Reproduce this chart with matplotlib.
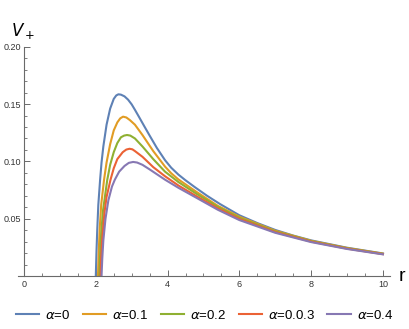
import numpy as np
import matplotlib
matplotlib.use("Agg")
import matplotlib.pyplot as plt
from matplotlib.ticker import MultipleLocator

plt.rcParams['font.family'] = ['Liberation Sans', 'DejaVu Sans']
plt.rcParams['mathtext.fontset'] = 'dejavusans'

# values
r_a0 = [2.0, 2.02, 2.04, 2.07, 2.12, 2.16, 2.21, 2.3, 2.4, 2.5, 2.57, 2.63, 2.7, 2.8, 2.9, 3.0, 3.09, 3.2, 3.35, 3.5,
        3.7, 3.93, 4.1, 4.3, 4.5, 4.76, 5.1, 5.46, 6.0, 6.5, 7.0, 7.5, 8.0, 9.0, 10.0]
v_a0 = [0.0, 0.022, 0.040, 0.062, 0.084, 0.099, 0.113, 0.132, 0.146, 0.1545, 0.1575, 0.1585, 0.1582, 0.1567, 0.1538,
        0.1497, 0.145, 0.139, 0.1307, 0.1225, 0.1118, 0.101, 0.0945, 0.0885, 0.0835, 0.0775, 0.070, 0.0628, 0.053,
        0.0462, 0.0402, 0.0353, 0.0311, 0.0247, 0.0197]

r_a1 = [2.06, 2.08, 2.11, 2.15, 2.23, 2.3, 2.4, 2.5, 2.6, 2.68, 2.76, 2.85, 2.95, 3.09, 3.3, 3.6, 3.93, 4.1, 4.3, 4.8,
        5.4, 6.0, 7.0, 8.0, 9.0, 10.0]
v_a1 = [0.0, 0.020, 0.042, 0.062, 0.084, 0.099, 0.115, 0.127, 0.134, 0.1375, 0.139, 0.1383, 0.136, 0.132, 0.123, 0.109,
        0.0954, 0.0897, 0.0843, 0.0735, 0.0612, 0.0517, 0.0395, 0.0307, 0.0244, 0.0195]

r_a2 = [2.10, 2.12, 2.15, 2.2, 2.32, 2.4, 2.5, 2.6, 2.7, 2.79, 2.87, 2.96, 3.09, 3.3, 3.6, 3.93, 4.3, 4.8, 5.4, 6.0,
        7.0, 8.0, 9.0, 10.0]
v_a2 = [0.0, 0.018, 0.037, 0.057, 0.084, 0.097, 0.108, 0.116, 0.121, 0.1225, 0.123, 0.1225, 0.120, 0.113, 0.102, 0.091,
        0.082, 0.0718, 0.0603, 0.0508, 0.0389, 0.0304, 0.0242, 0.0193]

r_a3 = [2.13, 2.15, 2.18, 2.24, 2.3, 2.41, 2.5, 2.6, 2.75, 2.85, 2.94, 3.02, 3.09, 3.3, 3.6, 3.93, 4.3, 4.8, 5.4, 6.0,
        7.0, 8.0, 9.0, 10.0]
v_a3 = [0.0, 0.016, 0.033, 0.055, 0.069, 0.084, 0.094, 0.102, 0.108, 0.1103, 0.111, 0.1105, 0.109, 0.104, 0.095, 0.087,
        0.079, 0.0697, 0.0590, 0.0498, 0.0383, 0.0300, 0.0239, 0.0191]

r_a4 = [2.16, 2.18, 2.21, 2.27, 2.35, 2.45, 2.53, 2.65, 2.8, 2.92, 3.04, 3.15, 3.3, 3.5, 3.93, 4.3, 4.8, 5.4, 6.0,
        7.0, 8.0, 9.0, 10.0]
v_a4 = [0.0, 0.015, 0.031, 0.050, 0.066, 0.078, 0.084, 0.091, 0.096, 0.0987, 0.0995, 0.099, 0.097, 0.093, 0.084,
        0.077, 0.0683, 0.0578, 0.0488, 0.0377, 0.0296, 0.0236, 0.0189]

labels = [r'$\alpha$=0', r'$\alpha$=0.1', r'$\alpha$=0.2', r'$\alpha$=0.0.3', r'$\alpha$=0.4']
colors = ['#5E81B5', '#E19C24', '#8FB032', '#EB6235', '#8778B3']
series = [(r_a0, v_a0), (r_a1, v_a1), (r_a2, v_a2), (r_a3, v_a3), (r_a4, v_a4)]

fig = plt.figure(figsize=(4.09, 3.29), dpi=100)
ax = fig.add_axes([0.0438, 0.161, 0.910, 0.697])

for (r, v), c, lab in zip(series, colors, labels):
    ax.plot(r, v, color=c, lw=1.5, label=lab, solid_joinstyle='round')

ax.set_xlim(-0.17, 10.2)
ax.set_ylim(0, 0.2)

axis_col = '#6a6a6a'
for s in ['top', 'right']:
    ax.spines[s].set_visible(False)
ax.spines['left'].set_position(('data', 0))
ax.spines['left'].set_color(axis_col)
ax.spines['bottom'].set_color(axis_col)
ax.spines['left'].set_linewidth(0.8)
ax.spines['bottom'].set_linewidth(0.8)

ax.xaxis.set_major_locator(MultipleLocator(2))
ax.xaxis.set_minor_locator(MultipleLocator(0.5))
ax.set_yticks([0.05, 0.10, 0.15, 0.20])
ax.set_yticklabels(['0.05', '0.10', '0.15', '0.20'])
ax.yaxis.set_minor_locator(MultipleLocator(0.01))
ax.tick_params(which='major', direction='in', length=4, width=0.7, color=axis_col,
               labelsize=6.5, labelcolor='#333333', pad=3)
ax.tick_params(which='minor', direction='in', length=2.2, width=0.6, color=axis_col)
ax.tick_params(axis='y', which='major', pad=2)

ax.text(-0.02, 0.205, '$V_+$', fontsize=12, ha='center', va='bottom')
ax.text(10.52, 0.0, 'r', fontsize=14, ha='center', va='center')

fig.legend(loc='lower center', ncol=5, frameon=False, fontsize=9.5,
           handlelength=1.75, handletextpad=0.45, columnspacing=0.95,
           bbox_to_anchor=(0.5, -0.015))

fig.savefig('out.png', dpi=100)
